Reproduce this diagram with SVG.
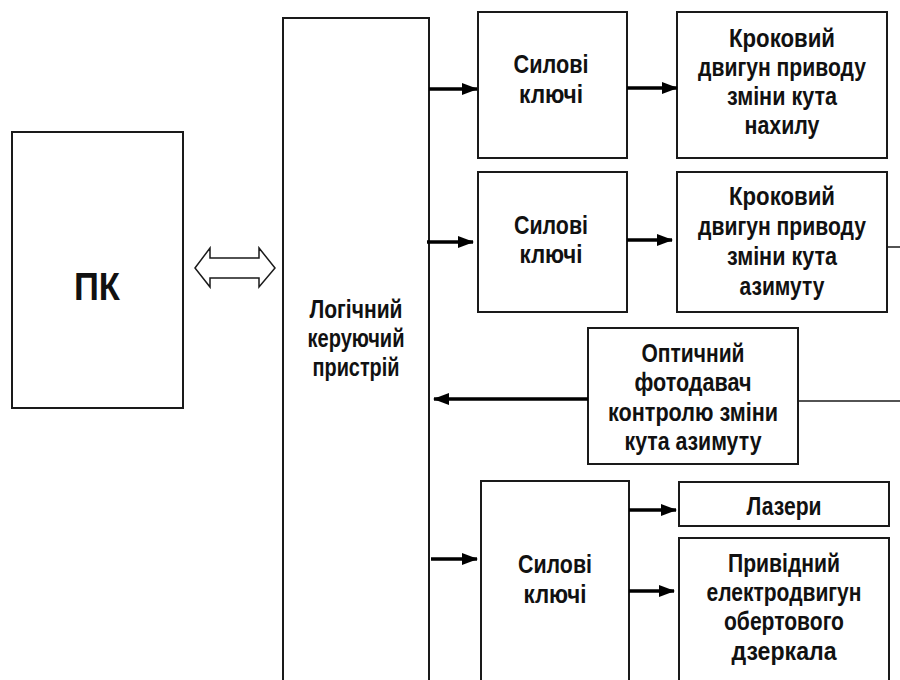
<svg xmlns="http://www.w3.org/2000/svg" width="900" height="680" viewBox="0 0 900 680">
<defs>
<style>
.box{fill:#fff;stroke:#1a1a1a;stroke-width:2}
.t{font-family:"Liberation Sans Narrow","Liberation Sans",Arial,sans-serif;font-weight:bold;font-size:25px;fill:#111;text-anchor:middle}
.big{font-size:39px}
.arr{stroke:#000;stroke-width:3.5;fill:none}
.thin{stroke:#1a1a1a;stroke-width:1.5;fill:none}
</style>
<marker id="ah" markerWidth="16" markerHeight="14" refX="15" refY="7" orient="auto" markerUnits="userSpaceOnUse">
<path d="M0,1 L16,7 L0,13 Z" fill="#000"/>
</marker>
</defs>
<rect width="900" height="680" fill="#fff"/>

<g id="pc">
<rect class="box" x="12" y="132" width="171" height="276"/>
<text class="t big" x="97" y="300" textLength="46" lengthAdjust="spacingAndGlyphs">ПК</text>
</g>

<g id="logic">
<rect class="box" x="283" y="18" width="146" height="670"/>
<text class="t" x="356" y="318" textLength="93" lengthAdjust="spacingAndGlyphs">Логічний</text>
<text class="t" x="356" y="347" textLength="97" lengthAdjust="spacingAndGlyphs">керуючий</text>
<text class="t" x="356" y="376" textLength="87" lengthAdjust="spacingAndGlyphs">пристрій</text>
</g>

<g id="keys1">
<rect class="box" x="478" y="12" width="149" height="146"/>
<text class="t" x="551" y="73" textLength="75" lengthAdjust="spacingAndGlyphs">Силові</text>
<text class="t" x="551" y="103" textLength="64" lengthAdjust="spacingAndGlyphs">ключі</text>
</g>

<g id="motor1">
<rect class="box" x="677" y="12" width="210" height="146"/>
<text class="t" x="782" y="47" textLength="106" lengthAdjust="spacingAndGlyphs">Кроковий</text>
<text class="t" x="782" y="76" textLength="168" lengthAdjust="spacingAndGlyphs">двигун приводу</text>
<text class="t" x="782" y="105" textLength="110" lengthAdjust="spacingAndGlyphs">зміни кута</text>
<text class="t" x="782" y="134" textLength="75" lengthAdjust="spacingAndGlyphs">нахилу</text>
</g>

<g id="keys2">
<rect class="box" x="478" y="172" width="149" height="140"/>
<text class="t" x="551" y="234" textLength="74" lengthAdjust="spacingAndGlyphs">Силові</text>
<text class="t" x="551" y="263" textLength="63" lengthAdjust="spacingAndGlyphs">ключі</text>
</g>

<g id="motor2">
<rect class="box" x="677" y="172" width="210" height="140"/>
<text class="t" x="782" y="205" textLength="106" lengthAdjust="spacingAndGlyphs">Кроковий</text>
<text class="t" x="782" y="235" textLength="168" lengthAdjust="spacingAndGlyphs">двигун приводу</text>
<text class="t" x="782" y="265" textLength="110" lengthAdjust="spacingAndGlyphs">зміни кута</text>
<text class="t" x="782" y="295" textLength="85" lengthAdjust="spacingAndGlyphs">азимуту</text>
</g>

<g id="sensor">
<rect class="box" x="588" y="328" width="210" height="136"/>
<text class="t" x="693" y="362" textLength="103" lengthAdjust="spacingAndGlyphs">Оптичний</text>
<text class="t" x="693" y="391" textLength="117" lengthAdjust="spacingAndGlyphs">фотодавач</text>
<text class="t" x="693" y="421" textLength="170" lengthAdjust="spacingAndGlyphs">контролю зміни</text>
<text class="t" x="693" y="450" textLength="137" lengthAdjust="spacingAndGlyphs">кута азимуту</text>
</g>

<g id="keys3">
<rect class="box" x="481" y="481" width="148" height="210"/>
<text class="t" x="555" y="573" textLength="74" lengthAdjust="spacingAndGlyphs">Силові</text>
<text class="t" x="555" y="603" textLength="63" lengthAdjust="spacingAndGlyphs">ключі</text>
</g>

<g id="lasers">
<rect class="box" x="679" y="482" width="210" height="44"/>
<text class="t" x="784" y="515" textLength="75" lengthAdjust="spacingAndGlyphs">Лазери</text>
</g>

<g id="drive">
<rect class="box" x="679" y="538" width="210" height="153"/>
<text class="t" x="784" y="572" textLength="112" lengthAdjust="spacingAndGlyphs">Привідний</text>
<text class="t" x="784" y="601" textLength="155" lengthAdjust="spacingAndGlyphs">електродвигун</text>
<text class="t" x="784" y="630" textLength="120" lengthAdjust="spacingAndGlyphs">обертового</text>
<text class="t" x="784" y="660" textLength="105" lengthAdjust="spacingAndGlyphs">дзеркала</text>
</g>

<g id="connectors">
<polygon points="195,268 210,248 210,258 259,258 259,248 275,268 259,287 259,278 210,278 210,287" fill="#fff" stroke="#1a1a1a" stroke-width="1.5" stroke-linejoin="miter"/>
<line class="arr" x1="429" y1="89" x2="477" y2="89" marker-end="url(#ah)"/>
<line class="arr" x1="627" y1="88" x2="677" y2="88" marker-end="url(#ah)"/>
<line class="arr" x1="427" y1="242" x2="473" y2="242" marker-end="url(#ah)"/>
<line class="arr" x1="627" y1="240" x2="672" y2="240" marker-end="url(#ah)"/>
<line class="arr" x1="588" y1="399" x2="434" y2="399" marker-end="url(#ah)"/>
<line class="arr" x1="431" y1="559" x2="477" y2="559" marker-end="url(#ah)"/>
<line class="arr" x1="629" y1="510" x2="676" y2="510" marker-end="url(#ah)"/>
<line class="arr" x1="629" y1="591" x2="674" y2="591" marker-end="url(#ah)"/>
<line class="thin" x1="887" y1="247" x2="900" y2="247"/>
<line class="thin" x1="798" y1="401" x2="900" y2="401"/>
</g>
</svg>
